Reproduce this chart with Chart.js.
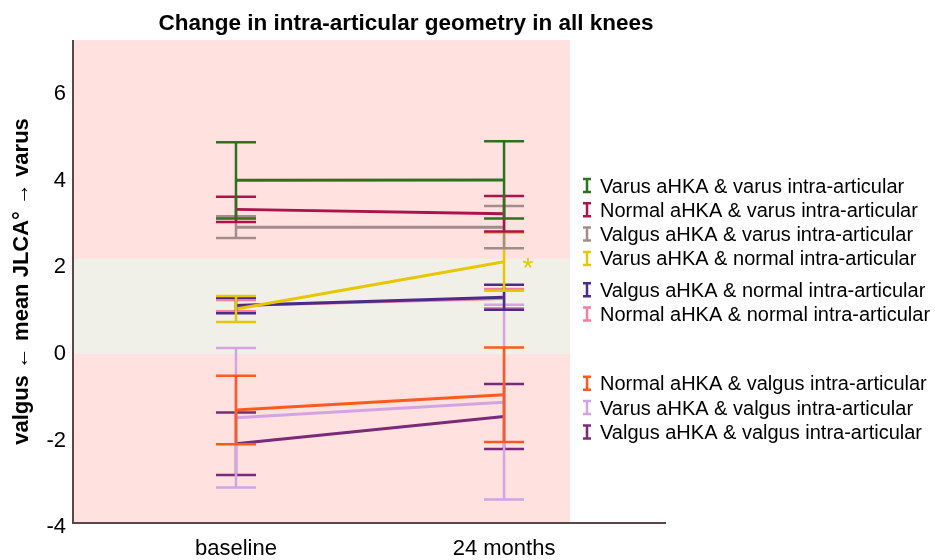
<!DOCTYPE html>
<html>
<head>
<meta charset="utf-8">
<script src="https://cdn.jsdelivr.net/npm/chart.js@4.4.0/dist/chart.umd.min.js"></script>
<style>
html, body { margin: 0; padding: 0; background: #fff; }
#wrap { width: 935px; height: 560px; }
</style>
</head>
<body>
<div id="wrap"><canvas id="jlcaChart" width="935" height="560"></canvas></div>
<script>
// Data
const timepoints = ['baseline', '24 months'];
const groups = [
    'Varus aHKA & varus intra-articular',
    'Normal aHKA & varus intra-articular',
    'Valgus aHKA & varus intra-articular',
    'Varus aHKA & normal intra-articular',
    'Valgus aHKA & normal intra-articular',
    'Normal aHKA & normal intra-articular',
    'Normal aHKA & valgus intra-articular',
    'Varus aHKA & valgus intra-articular',
    'Valgus aHKA & valgus intra-articular'
];
const meanBaseline = [4.01, 3.34, 2.93, 1.04, 1.12, 1.12, -1.29, -1.47, -2.07];
const mean24 = [4.02, 3.24, 2.93, 2.13, 1.31, 1.28, -0.94, -1.11, -1.44];
const errBaseline = [0.88, 0.29, 0.25, 0.30, 0.18, 0.13, 0.79, 1.61, 0.72]; // half width of error bar
const err24 = [0.89, 0.41, 0.49, 0.67, 0.29, 0.22, 1.09, 2.25, 0.75];
const significant = [false, false, false, true, false, false, false, false, false];
const yTicks = [-4, -2, 0, 2, 4, 6];
const normalBand = [0, 2.2];

const colors = ['#2d701f', '#ad124b', '#a38c8c', '#e8c600', '#4b2a8c', '#f2809c', '#ff5a1e', '#d4a4e2', '#7a2a78'];
const FONT = "'Liberation Sans', Arial, sans-serif";

// Backgrounds, error bars, axis lines, legend and title
const decorPlugin = {
    id: 'jlcaDecor',
    beforeDatasetsDraw(chart) {
        const { ctx, chartArea: a, scales: { y } } = chart;
        ctx.save();
        ctx.fillStyle = '#ffe1df';
        ctx.fillRect(a.left, a.top, a.right - a.left, a.bottom - a.top);
        ctx.fillStyle = '#f0f0e8';
        const top = y.getPixelForValue(normalBand[1]);
        const bot = y.getPixelForValue(normalBand[0]);
        ctx.fillRect(a.left, top, a.right - a.left, bot - top);
        ctx.restore();
    },
    afterDatasetsDraw(chart) {
        const { ctx, chartArea: a, scales: { x, y } } = chart;
        ctx.save();

        // error bars
        for (let i = groups.length - 1; i >= 0; i--) {
            const bars = [[0, meanBaseline[i], errBaseline[i]], [1, mean24[i], err24[i]]];
            ctx.strokeStyle = colors[i];
            ctx.lineWidth = 2.5;
            bars.forEach(([t, m, e]) => {
                const px = x.getPixelForValue(t);
                const hi = y.getPixelForValue(m + e);
                const lo = y.getPixelForValue(m - e);
                ctx.beginPath();
                ctx.moveTo(px, hi); ctx.lineTo(px, lo);
                ctx.moveTo(px - 20, hi); ctx.lineTo(px + 20, hi);
                ctx.moveTo(px - 20, lo); ctx.lineTo(px + 20, lo);
                ctx.stroke();
            });
            if (significant[i]) {
                ctx.fillStyle = colors[i];
                ctx.font = '28px ' + FONT;
                ctx.textAlign = 'center';
                ctx.textBaseline = 'middle';
                ctx.fillText('*', x.getPixelForValue(1) + 24, y.getPixelForValue(mean24[i]) + 7);
            }
        }

        // axis lines
        ctx.strokeStyle = '#5a4646';
        ctx.lineWidth = 2;
        ctx.beginPath();
        ctx.moveTo(a.left, a.top);
        ctx.lineTo(a.left, a.bottom);
        ctx.lineTo(666, a.bottom);
        ctx.stroke();

        // legend
        let ly = 186;
        groups.forEach((g, i) => {
            ctx.strokeStyle = colors[i];
            ctx.lineWidth = 2.5;
            ctx.beginPath();
            ctx.moveTo(587, ly - 7); ctx.lineTo(587, ly + 6);
            ctx.moveTo(583, ly - 7); ctx.lineTo(591, ly - 7);
            ctx.moveTo(583, ly + 6); ctx.lineTo(591, ly + 6);
            ctx.stroke();
            ctx.fillStyle = '#000';
            ctx.font = '20px ' + FONT;
            ctx.textAlign = 'left';
            ctx.textBaseline = 'middle';
            ctx.fillText(g, 600, ly + 1);
            ly += 24.3;
            if (i === 3) ly += 7;
            if (i === 5) ly += 45;
        });

        // title
        ctx.fillStyle = '#000';
        ctx.font = 'bold 22.5px ' + FONT;
        ctx.textAlign = 'center';
        ctx.textBaseline = 'middle';
        ctx.fillText('Change in intra-articular geometry in all knees', 406, 24);

        ctx.restore();
    }
};

const datasets = groups.map((g, i) => ({
    label: g,
    data: [{ x: 0, y: meanBaseline[i] }, { x: 1, y: mean24[i] }],
    borderColor: colors[i],
    backgroundColor: colors[i],
    borderWidth: 3,
    pointRadius: 0,
    fill: false
}));

const ctx = document.getElementById('jlcaChart').getContext('2d');
const jlcaChart = new Chart(ctx, {
    type: 'line',
    data: { datasets: datasets },
    options: {
        responsive: false,
        animation: false,
        layout: { padding: { top: 40, right: 365, left: 0, bottom: 0 } },
        plugins: {
            legend: { display: false },
            title: { display: false },
            tooltip: { enabled: false }
        },
        scales: {
            x: {
                type: 'linear',
                min: -0.608,
                max: 1.246,
                grid: { display: false, drawTicks: false },
                border: { display: false },
                afterBuildTicks: axis => { axis.ticks = timepoints.map((t, i) => ({ value: i })); },
                afterFit: s => { s.height = 37; },
                ticks: {
                    callback: v => timepoints[v],
                    color: '#000',
                    font: { family: FONT, size: 22 },
                    padding: 13,
                    maxRotation: 0
                }
            },
            y: {
                min: -3.9,
                max: 7.25,
                grid: { display: false, drawTicks: false },
                border: { display: false },
                afterBuildTicks: axis => { axis.ticks = yTicks.map(v => ({ value: v })); },
                afterFit: s => { s.width = 73; },
                ticks: {
                    color: '#000',
                    font: { family: FONT, size: 22 },
                    padding: 7
                },
                title: {
                    display: true,
                    text: 'valgus ← mean JLCA° → varus',
                    color: '#000',
                    font: { family: FONT, size: 22, weight: 'bold' },
                    padding: { top: 9, bottom: 0 }
                }
            }
        }
    },
    plugins: [decorPlugin]
});
</script>
</body>
</html>
